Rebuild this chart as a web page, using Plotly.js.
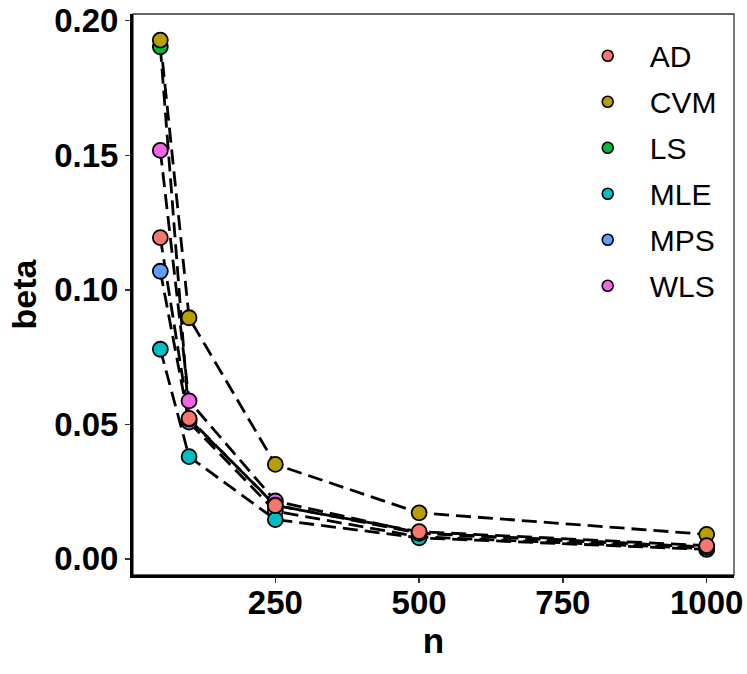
<!DOCTYPE html>
<html>
<head>
<meta charset="utf-8">
<script src="https://cdn.plot.ly/plotly-3.0.1.min.js"></script>
<style>
  html, body { margin: 0; padding: 0; background: #fff; }
  #chart { width: 747px; height: 674px; }
</style>
</head>
<body>
<div id="chart"></div>
<script>
// sample sizes on the x axis
var nValues = [50, 100, 250, 500, 1000];

// estimator names and ggplot default hue colours
var methods = ['AD', 'CVM', 'LS', 'MLE', 'MPS', 'WLS'];
var colors = ['#F8766D', '#B79F00', '#00BA38', '#00BFC4', '#619CFF', '#F564E3'];

// beta values, one array per method
var betaAD  = [0.1194, 0.0522, 0.0198, 0.0101, 0.0049];
var betaCVM = [0.1928, 0.0896, 0.0351, 0.0171, 0.0091];
var betaLS  = [0.1903, 0.0519, 0.0200, 0.0095, 0.0043];
var betaMLE = [0.0779, 0.0380, 0.0146, 0.0078, 0.0035];
var betaMPS = [0.1069, 0.0508, 0.0177, 0.0082, 0.0038];
var betaWLS = [0.1518, 0.0587, 0.0215, 0.0096, 0.0044];

var series = [betaAD, betaCVM, betaLS, betaMLE, betaMPS, betaWLS];

var yTicks = [0, 0.05, 0.10, 0.15, 0.20];
var xTicks = [250, 500, 750, 1000];

var FONT = 'Liberation Sans, Arial, Helvetica, sans-serif';

var traces = [];

// dashed connecting lines first, so the points sit on top
for (var i = 0; i < methods.length; i++) {
  traces.push({
    type: 'scatter',
    mode: 'lines',
    x: nValues,
    y: series[i],
    line: { color: '#000', width: 2.8, dash: '15px,7px' },
    hoverinfo: 'skip',
    showlegend: false
  });
}

// points, drawn last-to-first so AD ends up on top like the reference
for (var j = methods.length - 1; j >= 0; j--) {
  traces.push({
    type: 'scatter',
    mode: 'markers',
    x: nValues,
    y: series[j],
    name: methods[j],
    marker: { color: colors[j], size: 15, line: { color: '#000', width: 1.8 } },
    showlegend: false
  });
}

// legend-only entries (smaller keys, like ggplot's legend)
for (var k = 0; k < methods.length; k++) {
  traces.push({
    type: 'scatter',
    mode: 'markers',
    x: [null],
    y: [null],
    name: methods[k],
    legendgroup: methods[k],
    marker: { color: colors[k], size: 11, line: { color: '#000', width: 1.6 } },
    showlegend: true
  });
}

var layout = {
  width: 747,
  height: 674,
  margin: { l: 133, r: 13, t: 14, b: 99 },
  paper_bgcolor: '#fff',
  plot_bgcolor: '#fff',
  font: { family: FONT, color: '#000' },
  xaxis: {
    range: [2.5, 1047.5],
    tickvals: xTicks,
    ticktext: xTicks.map(String),
    showgrid: false,
    zeroline: false,
    showline: true,
    linecolor: '#000',
    linewidth: 3,
    ticks: 'outside',
    ticklen: 5,
    tickwidth: 1.5,
    tickcolor: '#333',
    ticklabelstandoff: -9,
    tickfont: { size: 33, family: FONT, weight: 'bold', color: '#000' },
    title: { text: '<b>n</b>', font: { size: 35, family: FONT, color: '#000' }, standoff: 2 }
  },
  yaxis: {
    range: [-0.006, 0.2025],
    tickvals: yTicks,
    tickformat: '.2f',
    showgrid: false,
    zeroline: false,
    showline: true,
    linecolor: '#000',
    linewidth: 3,
    ticks: 'outside',
    ticklen: 5,
    tickwidth: 1.5,
    tickcolor: '#333',
    tickfont: { size: 33, family: FONT, weight: 'bold', color: '#000' },
    title: { text: '<b>beta</b>', font: { size: 34, family: FONT, color: '#000' }, standoff: 8 }
  },
  legend: {
    x: 0.72,
    y: 0.972,
    xanchor: 'left',
    yanchor: 'top',
    bgcolor: 'rgba(0,0,0,0)',
    font: { size: 30, family: FONT, color: '#000' },
    tracegroupgap: 4,
    itemwidth: 74
  },
  shapes: [{
    type: 'rect',
    xref: 'paper', yref: 'paper',
    x0: 0, x1: 1, y0: 0, y1: 1,
    line: { color: '#333', width: 1.3 },
    layer: 'below'
  }]
};

Plotly.newPlot('chart', traces, layout, { displayModeBar: false, staticPlot: true });
</script>
</body>
</html>
